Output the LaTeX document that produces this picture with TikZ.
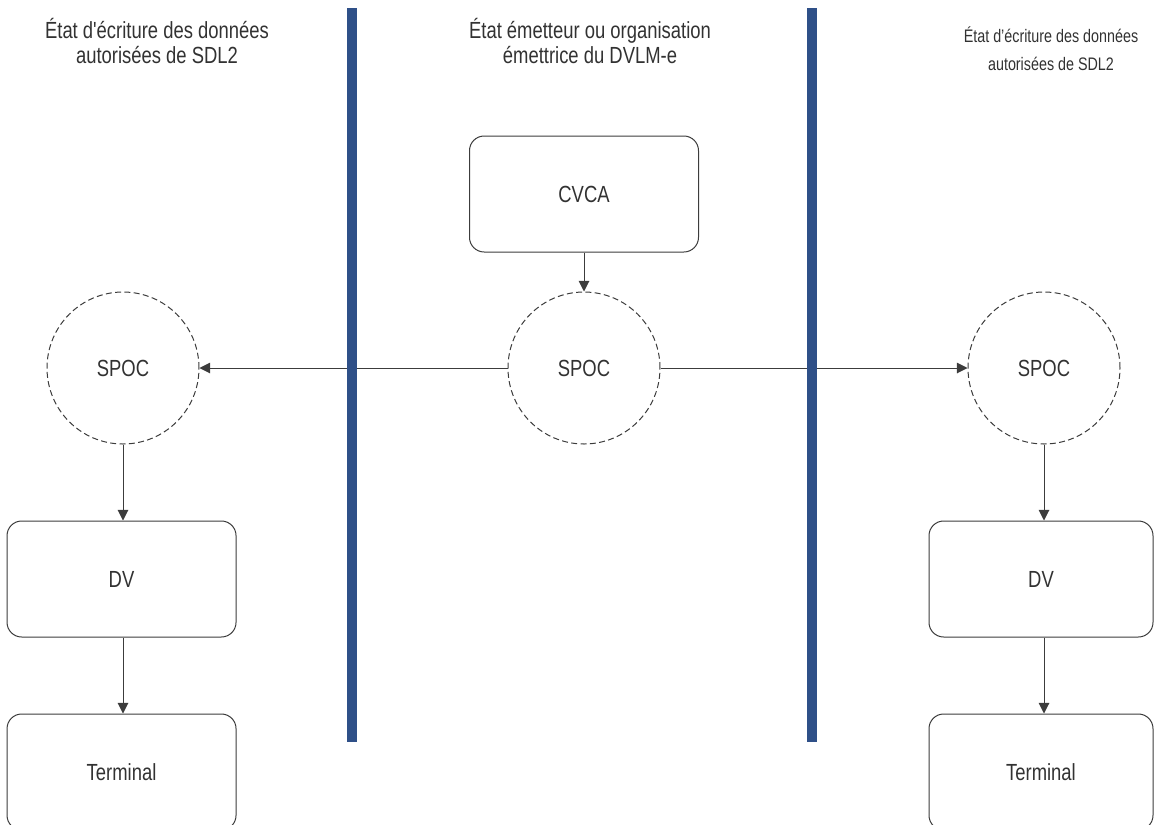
\documentclass[tikz,border=0pt]{standalone}
\usepackage{fontspec}
\setmainfont{Liberation Sans}
\newfontfamily\narrowfont{Liberation Sans}[FakeStretch=0.79]
\usetikzlibrary{positioning, arrows.meta}
\definecolor{barblue}{RGB}{47,80,136}
\definecolor{linegray}{RGB}{60,60,60}
\definecolor{textgray}{RGB}{50,50,50}

\begin{document}
\begin{tikzpicture}[
  x=0.75pt, y=-0.75pt,
  node distance=57pt,
  box/.style={draw=linegray, line width=0.75pt, rounded corners=11pt,
              minimum width=171.75pt, minimum height=87pt,
              text=textgray, font=\narrowfont\fontsize{17.5}{20}\selectfont},
  spoc/.style={circle, draw=linegray, line width=0.75pt,
               dash pattern=on 4.5pt off 2.5pt, minimum size=114pt,
               text=textgray, font=\narrowfont\fontsize{17.5}{20}\selectfont},
  header/.style={align=center, text=textgray,
                 font=\narrowfont\fontsize{17.5}{18.75}\selectfont},
  arrow/.style={-{Triangle[length=8pt, width=8pt]}, line width=0.75pt, linegray}
]
  \clip (0,0) rectangle (1154,825);

  % en-tetes
  \node[header] (hdrL) at (157,41) {État d'écriture des données\\autorisées de SDL2};
  \node[header] (hdrM) at (590,41) {État émetteur ou organisation\\émettrice du DVLM-e};
  \node[header, font=\narrowfont\fontsize{13.6}{21}\selectfont] (hdrR) at (1051,49)
       {État d’écriture des données\\autorisées de SDL2};

  % colonne centrale
  \node[spoc] (spocM) at (584,368) {SPOC};
  \node[box, above=29.25pt of spocM] (cvca) {CVCA};

  % colonne gauche
  \node[spoc] (spocL) at (123,368) {SPOC};
  \node[box, below=of spocL, xshift=-1.1pt] (dvL) {DV};
  \node[box, below=of dvL] (termL) {Terminal};

  % colonne droite
  \node[spoc] (spocR) at (1044,368) {SPOC};
  \node[box, below=of spocR, xshift=-2.25pt, minimum width=168pt] (dvR) {DV};
  \node[box, below=of dvR, minimum width=168pt] (termR) {Terminal};

  \draw[arrow] (cvca) -- (spocM);
  \draw[arrow] (spocM) -- (spocL);
  \draw[arrow] (spocM) -- (spocR);
  \draw[arrow] (spocL.south) -- (spocL.south |- dvL.north);
  \draw[arrow] (dvL.south -| spocL.south) -- (termL.north -| spocL.south);
  \draw[arrow] (spocR.south) -- (spocR.south |- dvR.north);
  \draw[arrow] (dvR.south -| spocR.south) -- (termR.north -| spocR.south);

  % separations
  \fill[barblue] (347,8) rectangle (357,742);
  \fill[barblue] (807,8) rectangle (817,742);
\end{tikzpicture}
\end{document}
